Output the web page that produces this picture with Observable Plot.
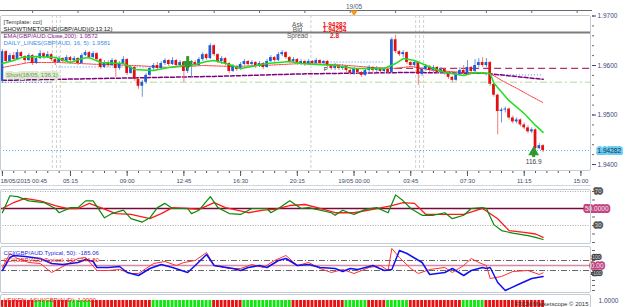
<!DOCTYPE html>
<html><head><meta charset="utf-8">
<script src="https://cdn.jsdelivr.net/npm/d3@7"></script>
<script src="https://cdn.jsdelivr.net/npm/@observablehq/plot@0.6"></script>
<style>
body{margin:0;background:#fff;}
#wrap{position:relative;width:625px;height:307px;overflow:hidden;font-family:"Liberation Sans",Arial,sans-serif;}
#wrap > div{position:absolute;left:0;}
#wrap svg{overflow:visible;display:block}
.frame{position:absolute;border:1px solid #c4ccd6;border-radius:2px;box-sizing:border-box;pointer-events:none}
</style></head><body><div id="wrap"></div>
<script>
// ---------- DATA (15-minute candles, index 0 = 18/05 00:45) ----------
const firstOpen = 1.9568;
const closeP = [1.9628,1.9608,1.9620,1.9612,1.9626,1.9618,1.9610,1.9620,1.9604,1.9614,1.9624,1.9616,1.9622,1.9612,1.9606,1.9614,
1.9608,1.9616,1.9610,1.9614,1.9604,1.9620,1.9626,1.9616,1.9624,1.9612,1.9596,1.9606,1.9600,1.9610,1.9594,1.9604,
1.9612,1.9584,1.9596,1.9572,1.9558,1.9566,1.9580,1.9594,1.9600,1.9594,1.9604,1.9610,1.9602,1.9610,1.9600,1.9606,
1.9588,1.9598,1.9606,1.9600,1.9612,1.9622,1.9614,1.9640,1.9622,1.9608,1.9614,1.9604,1.9588,1.9598,1.9592,1.9602,
1.9608,1.9602,1.9606,1.9598,1.9604,1.9596,1.9608,1.9616,1.9610,1.9622,1.9626,1.9616,1.9608,1.9612,1.9604,1.9608,
1.9602,1.9608,1.9604,1.9610,1.9604,1.9608,1.9600,1.9594,1.9600,1.9594,1.9598,1.9590,1.9584,1.9592,1.9586,1.9580,
1.9590,1.9596,1.9590,1.9594,1.9588,1.9592,1.9586,1.9652,1.9628,1.9622,1.9626,1.9606,1.9600,1.9606,1.9582,1.9592,
1.9598,1.9590,1.9596,1.9586,1.9592,1.9584,1.9576,1.9570,1.9582,1.9590,1.9584,1.9596,1.9588,1.9600,1.9606,1.9600,
1.9606,1.9562,1.9540,1.9507,1.9510,1.9512,1.9494,1.9486,1.9490,1.9480,1.9474,1.9466,1.9470,1.9432,1.9438,1.9428];
const highP = [1.9632,1.9630,1.9624,1.9626,1.9632,1.9628,1.9620,1.9624,1.9622,1.9618,1.9630,1.9626,1.9628,1.9624,1.9614,1.9618,
1.9616,1.9620,1.9618,1.9618,1.9616,1.9624,1.9630,1.9628,1.9628,1.9626,1.9614,1.9610,1.9610,1.9614,1.9612,1.9608,
1.9618,1.9614,1.9600,1.9598,1.9574,1.9570,1.9584,1.9598,1.9604,1.9606,1.9608,1.9614,1.9612,1.9616,1.9612,1.9610,
1.9608,1.9602,1.9610,1.9610,1.9616,1.9626,1.9624,1.9644,1.9642,1.9624,1.9618,1.9616,1.9606,1.9602,1.9600,1.9606,
1.9612,1.9610,1.9610,1.9608,1.9608,1.9606,1.9612,1.9620,1.9618,1.9626,1.9630,1.9628,1.9618,1.9616,1.9614,1.9612,
1.9610,1.9612,1.9610,1.9614,1.9612,1.9610,1.9610,1.9602,1.9604,1.9602,1.9602,1.9600,1.9592,1.9596,1.9594,1.9588,
1.9594,1.9600,1.9598,1.9598,1.9596,1.9596,1.9594,1.9656,1.9661,1.9630,1.9630,1.9628,1.9608,1.9610,1.9608,1.9596,
1.9602,1.9600,1.9600,1.9598,1.9596,1.9594,1.9586,1.9578,1.9586,1.9596,1.9600,1.9610,1.9598,1.9612,1.9614,1.9616,
1.9614,1.9608,1.9564,1.9542,1.9514,1.9516,1.9514,1.9498,1.9494,1.9492,1.9484,1.9478,1.9474,1.9472,1.9442,1.9440];
const lowP = [1.9565,1.9604,1.9606,1.9610,1.9610,1.9614,1.9604,1.9608,1.9600,1.9602,1.9612,1.9612,1.9614,1.9608,1.9600,1.9604,
1.9604,1.9606,1.9606,1.9606,1.9600,1.9602,1.9618,1.9612,1.9614,1.9608,1.9592,1.9594,1.9596,1.9598,1.9576,1.9590,
1.9602,1.9580,1.9582,1.9568,1.9552,1.9536,1.9562,1.9578,1.9590,1.9590,1.9592,1.9600,1.9598,1.9600,1.9596,1.9596,
1.9566,1.9584,1.9576,1.9596,1.9598,1.9608,1.9610,1.9612,1.9618,1.9604,1.9602,1.9600,1.9584,1.9586,1.9588,1.9590,
1.9600,1.9598,1.9598,1.9594,1.9596,1.9592,1.9594,1.9606,1.9606,1.9608,1.9618,1.9612,1.9604,1.9604,1.9600,1.9600,
1.9598,1.9600,1.9600,1.9602,1.9600,1.9600,1.9596,1.9590,1.9590,1.9590,1.9590,1.9586,1.9580,1.9580,1.9582,1.9576,
1.9578,1.9586,1.9586,1.9586,1.9584,1.9582,1.9582,1.9584,1.9624,1.9618,1.9616,1.9602,1.9596,1.9596,1.9560,1.9578,
1.9588,1.9586,1.9586,1.9582,1.9582,1.9580,1.9572,1.9566,1.9568,1.9578,1.9580,1.9582,1.9584,1.9586,1.9596,1.9596,
1.9596,1.9558,1.9536,1.9460,1.9484,1.9504,1.9490,1.9482,1.9482,1.9476,1.9470,1.9462,1.9462,1.9428,1.9430,1.9424];
const bidLine = 1.94282;

// indicator lines on the price panel (index, price)
const greenIdx = [0,3,5,9,14,18,21,23,26,32,35,40,44,48,51,54,56,60,63,66,70,76,79,83,88,93,97,101,104,106,109,114,117,122,125,129,130,134,138,141,143];
const greenVal = [1.9604,1.9610,1.9616,1.9618,1.9616,1.9606,1.9614,1.9616,1.9606,1.9604,1.9592,1.9590,1.9596,1.9600,1.9602,1.9608,1.9610,1.9602,1.9594,1.9598,1.9604,1.9608,1.9604,1.9602,1.9600,1.9594,1.9594,1.9594,1.9604,1.9614,1.9610,1.9594,1.9586,1.9580,1.9586,1.9584,1.9564,1.9529,1.9503,1.9479,1.9465];
const redIdx = [0,7,15,26,35,44,53,61,69,79,88,98,104,108,114,122,129,132,136,140,143];
const redVal = [1.9596,1.9606,1.9606,1.9602,1.9600,1.9596,1.9600,1.9598,1.9600,1.9604,1.9602,1.9596,1.9594,1.9598,1.9590,1.9586,1.9584,1.9570,1.9554,1.9537,1.9525];
const emaIdx = [0,56,79,108,128,143];
const emaVal = [1.9570,1.9578,1.9583,1.9586,1.9584,1.9572];
const dailyFrom = [0,15,79,128];
const dailyTo = [13,39,101,143];
const dailyVal = [1.9566,1.9597,1.9607,1.9581];
const markerIdx = [13.2,14.3,15.3,81.6,109.3,110.3,111.4];

// RSI panel
const rsiIdx = [0,2,4,7,11,14,15,18,20,22,24,27,29,32,34,37,39,41,43,45,49,50,52,55,57,60,63,66,70,71,73,76,79,81,84,87,88,90,93,96,99,102,104,106,108,111,114,117,119,122,124,127,128,130,132,135,139,141,143];
const rsiVal = [45,65,64,59,57,50,45,51,51,59,59,39,44,48,38,34,39,51,56,50,50,44,48,64,51,44,43,50,50,45,50,59,50,51,48,45,42,48,43,49,51,45,66,59,50,42,42,45,38,42,50,51,50,31,24,21,18,16,13.5];
const sigIdx = [0,3,6,10,14,17,20,23,26,30,34,39,42,45,49,52,56,59,65,69,72,76,80,84,88,93,98,103,106,109,112,116,122,127,131,134,138,141,143];
const sigVal = [50,57,62,59,53.5,50,50,56,51,44,43,38,44,51,50,49,57,51,45,48,49,53.5,54.7,50,45,45,49,53.5,57,56,43,43,43,50,38,24,22,20,16];

// CCI panel
const cci50Idx = [0,2,3,6,10,13,16,20,22,24,25,28,31,33,36,39,42,45,49,51,54,56,61,63,65,68,70,73,75,78,81,84,88,90,92,94,98,101,103,105,107,111,113,117,119,122,124,127,128,129,131,133,137,140,143];
const cci50Val = [-100,160,200,180,140,40,20,60,120,80,-40,-40,-20,-140,-200,-60,20,-40,-140,0,220,0,-60,-100,-40,0,-40,100,140,0,20,-40,-60,-120,-60,-80,0,-100,-80,300,240,60,-180,-140,-60,-200,-100,-40,-60,-40,-340,-500,-360,-260,-220,-185];
const cci14Idx = [0,2,4,7,10,13,15,20,22,25,28,31,34,36,40,43,46,48,51,54,56,60,63,66,69,72,75,78,81,84,87,90,93,97,100,102,103,105,108,110,113,117,119,122,124,126,128,129,132,135,139,142,143];
const cci14Val = [-40,240,140,60,40,-140,-60,140,160,-100,-100,-80,-160,-160,40,80,0,60,100,260,0,-60,-60,20,-40,100,200,0,60,-60,-140,-80,-160,-40,0,-100,340,160,-60,-160,-80,-40,-140,0,140,60,0,-260,-220,-120,-100,-180,-147];

// Heiken Ashi colours, one per candle (g = up, r = down)
const haColors = "rrrrrrrrrgggggrrrrggggggrrrrrrrrrrrrrrrrggggggggggggggggrrrrrrrrgggggggggggggrrrrrrrrrrrrrrggggggrrrrrggggggrrrrrrrrrrrrrrggggggrrrrrrrrrrrrrrrr";

// time axis
const timeIdx = [0,18,33,48,63,78,93,108,123,138,153];
const timeLab = ["18/05/2015 00:45","05:15","09:00","12:45","16:30","20:15","19/05 00:00","03:45","07:30","11:15","15:00"];
const topTicks = [8,20,32,44,56,68,80,92,104,116,128,140,152];
const priceTicks = [1.94,1.95,1.96,1.97];
const abLab = ["Ask", "Bid", "Spread"];
const abVal = ["1.94282", "1.94254", "2.8"];

// ---------- BUILD ----------
const W = 625, MR = 34, XD = [-0.5, 155.8];
const wrap = document.getElementById("wrap");
function place(el, t){ const d = document.createElement("div"); d.style.top = t + "px"; d.appendChild(el); wrap.appendChild(d); }
function frame(l, t, w, h){ const f = document.createElement("div"); f.className = "frame"; Object.assign(f.style,{left:l+"px",top:t+"px",width:w+"px",height:h+"px"}); wrap.appendChild(f); }
const style = {fontFamily:"Liberation Sans, Arial, sans-serif", fontSize:"6px", background:"transparent", overflow:"visible"};
const pts = (xs, ys) => xs.map((x, k) => ({x, y: ys[k]}));
const range = (a, b, s) => d3.range(a, b + 1e-9, s);

const candles = closeP.map((c, i) => ({i, o: i ? closeP[i-1] : firstOpen, c, h: highP[i], l: lowP[i]}));
const up = d => d.c >= d.o;
const daily = dailyVal.map((p, k) => ({a: dailyFrom[k], b: dailyTo[k], p}));

// top navigator strip
const navPlot = Plot.plot({
  width: W, height: 13, marginLeft: 0, marginRight: MR, marginTop: 10, marginBottom: 0,
  x: {domain: XD, axis: null}, y: {axis: null}, style,
  marks: [
    Plot.frame({anchor: "top", stroke: "#6a6a6a"}),
    Plot.tickX(topTicks, {x: d => d, stroke: "#6a6a6a"}),
    Plot.text(["19/05"], {x: 93, frameAnchor: "top", dy: -6, text: d => d, fill: "#50607a", fontSize: 6.5}),
    Plot.dot([93], {x: d => d, frameAnchor: "top", dy: 2, symbol: "triangle", rotate: 180, r: 2.6, fill: "#ff9a10"})
  ]
});
place(navPlot, 0);

// price panel
const mainPlot = Plot.plot({
  width: W, height: 170, marginLeft: 0, marginRight: MR, marginTop: 0, marginBottom: 15,
  x: {domain: XD, axis: null}, y: {domain: [1.93879, 1.97010], axis: null}, style,
  marks: [
    Plot.ruleX(markerIdx, {x: d => d, stroke: "#cfcfcf", strokeDasharray: "3,2"}),
    Plot.ruleY([1.96667], {stroke: "#7c7c7c", strokeWidth: 2}),
    Plot.ruleY([bidLine], {stroke: "#46b8f0", strokeDasharray: "1,2"}),
    Plot.ruleY([1.9566], {stroke: "#cde5ba", strokeWidth: 1.5, strokeDasharray: "7,3,2,3"}),
    Plot.ruleY([1.9594], {x1: 104, x2: XD[1], stroke: "#b03468", strokeWidth: 1.3, strokeDasharray: "7,4"}),
    Plot.ruleY(daily, {y: "p", x1: "a", x2: "b", stroke: "#3c8ce6", strokeDasharray: "1,2"}),
    Plot.line(pts(emaIdx, emaVal), {x: "x", y: "y", stroke: "#800080", strokeWidth: 1.5, strokeDasharray: "4,2"}),
    Plot.line(pts(redIdx, redVal), {x: "x", y: "y", stroke: "#ff3a3a", strokeWidth: 1, strokeDasharray: "1.5,1"}),
    Plot.ruleX(candles, {x: "i", y1: "l", y2: "h", stroke: d => up(d) ? "#6f96e0" : "#f07c7c"}),
    Plot.rect(candles, {x1: d => d.i - 0.36, x2: d => d.i + 0.36, y1: "o", y2: "c", fill: d => up(d) ? "#1f5cd6" : "#e01010"}),
    Plot.line(pts(greenIdx, greenVal), {x: "x", y: "y", stroke: "#1ee01e", strokeWidth: 1.5}),
    // signals
    Plot.ruleX([49], {x: d => d, y1: 1.9618, y2: 1.9606, stroke: "#2e9a2e", strokeWidth: 3}),
    Plot.dot([49], {x: d => d, y: 1.9603, symbol: "triangle", rotate: 180, r: 4, fill: "#2e9a2e"}),
    Plot.text(["Short(18/05, 136.1)"], {x: 1, y: 1.9580, text: d => d, textAnchor: "start", fill: "#7e8e74", stroke: "#d9ecc9", strokeWidth: 4, paintOrder: "stroke", fontSize: 6}),
    Plot.ruleX([140.5], {x: d => d, y1: 1.9414, y2: 1.9424, stroke: "#2e9a2e", strokeWidth: 3}),
    Plot.dot([140.5], {x: d => d, y: 1.9425, symbol: "triangle", r: 4, fill: "#2e9a2e"}),
    Plot.text(["116.9"], {x: 140.5, y: 1.9406, text: d => d, fill: "#404040", fontSize: 6.5}),
    Plot.text(["P"], {x: 85.5, y: 1.9592, text: d => d, fill: "#111", fontSize: 6}),
    // legend
    Plot.text(["[Template: cci]"], {frameAnchor: "top-left", dx: 3, dy: 4, text: d => d, textAnchor: "start", fill: "#333"}),
    Plot.text(["SHOWTIMETOEND(GBP/AUD)(0:13:12)"], {frameAnchor: "top-left", dx: 3, dy: 11, text: d => d, textAnchor: "start", fill: "#111"}),
    Plot.text(["EMA(GBP/AUD.Close,200): 1.9572"], {frameAnchor: "top-left", dx: 3, dy: 18, text: d => d, textAnchor: "start", fill: "#8a1a8a"}),
    Plot.text(["DAILY_LINES(GBP/AUD, 16, 5): 1.9581"], {frameAnchor: "top-left", dx: 3, dy: 25, text: d => d, textAnchor: "start", fill: "#3c8ce6"}),
    // axes
    Plot.axisY({anchor: "right", ticks: range(1.94, 1.97, 0.002), tickSize: 2, tickFormat: () => "", stroke: "#666", label: null}),
    Plot.axisY({anchor: "right", ticks: priceTicks, tickSize: 4, tickPadding: 2, tickFormat: d3.format(".4f"), color: "#3a4676", fontSize: 6.5, label: null}),
    Plot.text([bidLine], {y: d => d, frameAnchor: "right", dx: 6, text: d3.format(".5f"), textAnchor: "start", fill: "#1a2a4a", stroke: "#66ccf2", strokeWidth: 4, paintOrder: "stroke", fontSize: 6.5}),
    Plot.axisX({anchor: "bottom", ticks: range(0, 155, 3), tickSize: 3, tickFormat: () => "", stroke: "#555", label: null}),
    Plot.axisX({anchor: "bottom", ticks: timeIdx, tickSize: 6, tickFormat: () => "", stroke: "#555", label: null}),
    Plot.text(timeIdx.slice(0, 1), {x: d => d, frameAnchor: "bottom", dy: 12, dx: -2, text: () => timeLab[0], textAnchor: "start", fill: "#414a66"}),
    Plot.text(timeIdx.slice(1), {x: d => d, frameAnchor: "bottom", dy: 12, text: (d, k) => timeLab[k + 1], fill: "#414a66"})
  ]
});
place(mainPlot, 15);

// Ask / Bid / Spread block
const abPlot = Plot.plot({
  width: W, height: 40, margin: 0, x: {domain: [0, W], axis: null}, y: {domain: [0, 40], axis: null, reverse: true}, style,
  marks: [
    Plot.text(abLab, {x: 297, y: (d, k) => 24 + k * 5.8, text: d => d, fill: "#555", fontSize: 6.5}),
    Plot.text(abVal, {x: 334, y: (d, k) => 24 + k * 5.8, text: d => d, fill: "#ee1010", fontWeight: "bold", fontSize: 6.5})
  ]
});
place(abPlot, 0);

frame(0, 15, 591, 156);

const sep = document.createElement("div");
Object.assign(sep.style, {position: "absolute", left: "0px", top: "185px", width: "591px", height: "1px", background: "#d0d6de"});
wrap.appendChild(sep);

// RSI panel
const rsiPlot = Plot.plot({
  width: W, height: 60, marginLeft: 0, marginRight: MR, marginTop: 4, marginBottom: 2,
  x: {domain: XD, axis: null}, y: {domain: [8.8, 72.35], axis: null}, style,
  marks: [
    Plot.ruleY([70, 30], {stroke: "#a9a9a9", strokeDasharray: "1,1.5"}),
    Plot.ruleY([50], {stroke: "#760a3c", strokeWidth: 1.5}),
    Plot.line(pts(sigIdx, sigVal), {x: "x", y: "y", stroke: "#ff1a1a", strokeWidth: 1.3}),
    Plot.line(pts(rsiIdx, rsiVal), {x: "x", y: "y", stroke: "#0a8a0a", strokeWidth: 1.2}),
    Plot.axisY({anchor: "right", ticks: range(10, 70, 10), tickSize: 3, tickFormat: () => "", stroke: "#666", label: null}),
    Plot.text([70, 30], {y: d => d, frameAnchor: "right", dx: 10, text: d => String(d), fill: "#ddd", stroke: "#555", strokeWidth: 3.5, paintOrder: "stroke", fontSize: 6}),
    Plot.text([50], {y: d => d, frameAnchor: "right", dx: 17, text: d => d.toFixed(4), fill: "#dff3ff", stroke: "#c8407c", strokeWidth: 4, paintOrder: "stroke", fontSize: 6.5})
  ]
});
place(rsiPlot, 185);
frame(0, 189, 591, 55);

// CCI panel
const cciPlot = Plot.plot({
  width: W, height: 48, marginLeft: 0, marginRight: MR, marginTop: 1, marginBottom: 1,
  x: {domain: XD, axis: null}, y: {domain: [-540, 380], axis: null}, style,
  marks: [
    Plot.ruleY([100, -100], {stroke: "#666", strokeDasharray: "6,2,1,2"}),
    Plot.ruleY([0], {stroke: "#d48aa8", strokeWidth: 1.5}),
    Plot.line(pts(cci14Idx, cci14Val), {x: "x", y: "y", stroke: "#ff3030", strokeWidth: 1}),
    Plot.line(pts(cci50Idx, cci50Val), {x: "x", y: "y", stroke: "#1010f0", strokeWidth: 1.5}),
    Plot.text(["CCI(GBP/AUD.Typical, 50): -185.06"], {frameAnchor: "top-left", dx: 3, dy: 4, text: d => d, textAnchor: "start", fill: "#2a2ae0"}),
    Plot.text(["CCI(GBP/AUD.Typical, 14): -146.80"], {frameAnchor: "top-left", dx: 3, dy: 11, text: d => d, textAnchor: "start", fill: "#ee2020"}),
    Plot.axisY({anchor: "right", ticks: range(-500, 300, 100), tickSize: 3, tickFormat: () => "", stroke: "#666", label: null}),
    Plot.text([100], {y: d => d, frameAnchor: "right", dx: 9, dy: -3, text: d => String(d), fill: "#ddd", stroke: "#444", strokeWidth: 2.5, paintOrder: "stroke", fontSize: 5}),
    Plot.text([-100], {y: d => d, frameAnchor: "right", dx: 10, dy: 3, text: d => String(d), fill: "#ddd", stroke: "#444", strokeWidth: 2.5, paintOrder: "stroke", fontSize: 5}),
    Plot.text([0], {y: d => d, frameAnchor: "right", dx: 12, text: d => d.toFixed(2), fill: "#dff3ff", stroke: "#c8407c", strokeWidth: 3.5, paintOrder: "stroke", fontSize: 6.5})
  ]
});
place(cciPlot, 245);
frame(0, 246, 591, 47);

// Heiken Ashi strip
const ha = haColors.split("").map((c, i) => ({i, c}));
const haPlot = Plot.plot({
  width: W, height: 14, marginLeft: 0, marginRight: MR, marginTop: 7, marginBottom: 0,
  x: {domain: XD, axis: null}, y: {domain: [0, 1], axis: null}, style,
  marks: [
    Plot.rect(ha, {x1: d => d.i - 0.38, x2: d => d.i + 0.38, y1: 0, y2: 1, fill: d => d.c === "g" ? "#12e612" : "#e61212"}),
    Plot.text(["HEIKEN_ASHI(GBP/AUD): 1.0000"], {frameAnchor: "top-left", dx: 3, dy: -3, text: d => d, textAnchor: "start", fill: "#ee2020"}),
    Plot.text(["FXCM Marketscope © 2015"], {frameAnchor: "right", dx: -3, dy: 0, text: d => d, textAnchor: "end", fill: "#333"}),
    Plot.text(["1.0000"], {frameAnchor: "top-right", dx: 7, dy: -2, text: d => d, textAnchor: "start", fill: "#3a4676", fontSize: 6.5})
  ]
});
place(haPlot, 293);
frame(0, 294, 591, 14);
</script></body></html>
